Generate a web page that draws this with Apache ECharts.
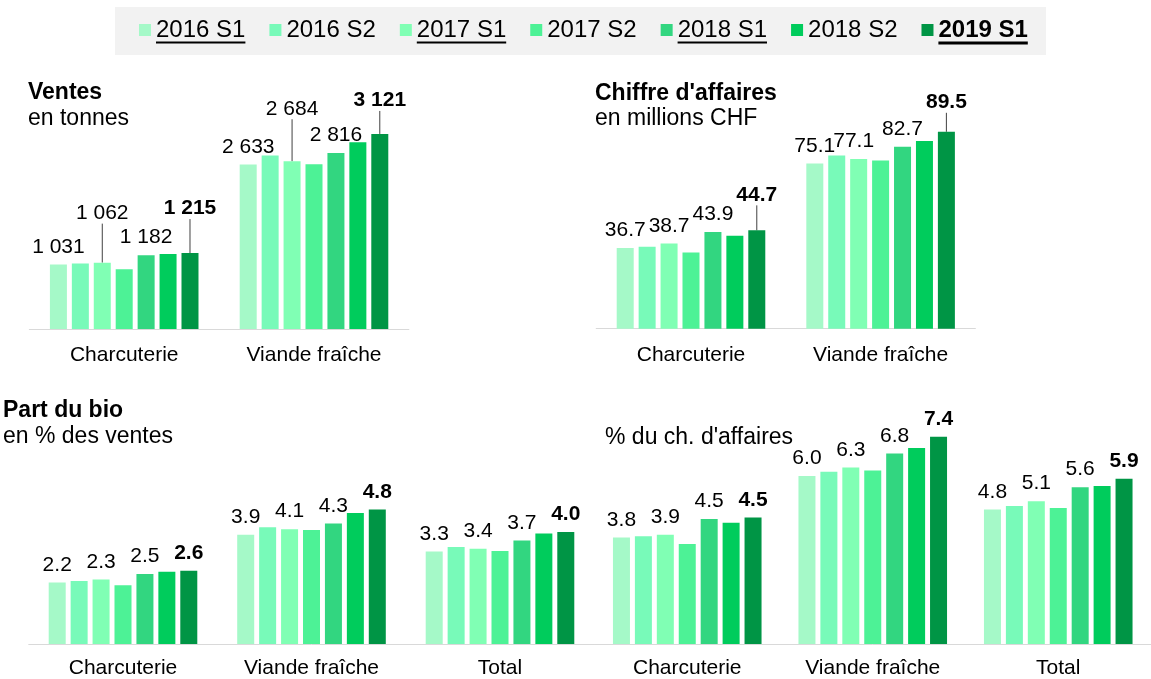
<!DOCTYPE html>
<html>
<head>
<meta charset="utf-8">
<title>Part du bio</title>
<script src="https://cdn.jsdelivr.net/npm/echarts@6/dist/echarts.min.js"></script>
<style>
  html, body { margin: 0; padding: 0; background: #fff; }
  #main { width: 1151px; height: 679px; }
</style>
</head>
<body>
<div id="main"></div>
<script>
// periodes (legende)
var periodes = ['2016 S1', '2016 S2', '2017 S1', '2017 S2', '2018 S1', '2018 S2', '2019 S1'];
var categoriesHaut = ['Charcuterie', 'Viande fraîche'];
var categoriesBas = ['Charcuterie', 'Viande fraîche', 'Total'];

// Ventes, en tonnes
var ventesCharcuterie = [1031, 1050, 1062, 955, 1182, 1200, 1215];
var ventesViande = [2633, 2778, 2684, 2635, 2816, 2990, 3121];
// Chiffre d'affaires, en millions CHF
var caCharcuterie = [36.7, 37.3, 38.7, 34.6, 43.9, 42.2, 44.7];
var caViande = [75.1, 78.7, 77.1, 76.5, 82.7, 85.3, 89.5];
// Part du bio, en % des ventes
var bioVentesCharcuterie = [2.2, 2.25, 2.3, 2.1, 2.5, 2.58, 2.62];
var bioVentesViande = [3.9, 4.17, 4.1, 4.07, 4.3, 4.68, 4.8];
var bioVentesTotal = [3.3, 3.46, 3.4, 3.32, 3.7, 3.95, 4.0];
// Part du bio, % du ch. d'affaires
var bioCaCharcuterie = [3.8, 3.85, 3.9, 3.57, 4.46, 4.33, 4.52];
var bioCaViande = [6.0, 6.15, 6.3, 6.2, 6.8, 7.0, 7.4];
var bioCaTotal = [4.8, 4.93, 5.1, 4.86, 5.6, 5.64, 5.9];

var couleurs = ['#a5f9c8', '#78fab9', '#80ffb4', '#4df296', '#32d680', '#00cc5c', '#009545'];
var police = "'Liberation Sans', Arial, sans-serif";

function milliers(v){
	return String(Math.round(v)).replace(/\B(?=(\d{3})+(?!\d))/g, ' ');
}

// decalage vertical des etiquettes avec trait de rappel  [grille][serie] = [cat0, cat1]
var decalages = {
	0: { 2: [-32, -35], 6: [-27, -16] },
	1: { 6: [-18, -12] }
};
var decalagesX = {
	1: { 2: [0, -5] }
};

function faireSeries(grille, tableaux, format){
	var res = [];
	for (var p = 0; p < periodes.length; p++) {
		var data = [];
		for (var c = 0; c < tableaux.length; c++) {
			var item = { value: tableaux[c][p] };
			var dy = decalages[grille] && decalages[grille][p] ? decalages[grille][p][c] : 0;
			if (dy) {
				item.labelLine = { show: true, lineStyle: { color: '#404040', width: 1 } };
			}
			data.push(item);
		}
		(function(g, pp){
			res.push({
				name: periodes[pp],
				type: 'bar',
				xAxisIndex: g,
				yAxisIndex: g,
				barWidth: 17,
				barGap: '29%',
				itemStyle: { color: couleurs[pp] },
				label: {
					show: pp % 2 == 0,
					position: 'top',
					distance: 7,
					fontSize: 21,
					fontFamily: police,
					fontWeight: pp == 6 ? 'bold' : 'normal',
					color: '#000',
					formatter: function (prm) { return format(prm.value); }
				},
				labelLayout: function (prm) {
					var o = {};
					var dy = decalages[g] && decalages[g][pp] ? decalages[g][pp][prm.dataIndex] : 0;
					var dx = decalagesX[g] && decalagesX[g][pp] ? decalagesX[g][pp][prm.dataIndex] : 0;
					if (dy) o.dy = dy;
					if (dx) o.dx = dx;
					return o;
				},
				emphasis: { disabled: true },
				data: data
			});
		})(grille, p);
	}
	return res;
}

function unDecimal(v){ return v.toFixed(1); }

function axeX(grille, cats, marge){
	return {
		type: 'category',
		gridIndex: grille,
		data: cats,
		axisLine: { lineStyle: { color: '#d9d9d9', width: 1 } },
		axisTick: { show: false },
		axisLabel: { fontSize: 21, fontFamily: police, color: '#000', margin: marge }
	};
}
function axeY(grille, max){
	return { type: 'value', gridIndex: grille, min: 0, max: max, show: false, splitLine: { show: false } };
}

function titre(x, y, texte, gras){
	return {
		type: 'text', x: x, y: y,
		style: {
			text: texte, fill: '#000', verticalAlign: 'middle',
			font: (gras ? 'bold ' : '') + '23px ' + police
		}
	};
}

var legendeData = [];
for (var i = 0; i < periodes.length; i++) {
	legendeData.push(i == 6 ? { name: periodes[i], textStyle: { fontWeight: 'bold' } } : { name: periodes[i] });
}

// soulignement des entrees de legende 1, 3, 5, 7
var soulignes = [];
for (var i = 0; i < periodes.length; i += 2) {
	soulignes.push({
		type: 'rect',
		shape: { x: 156 + i * 130.4, y: 41.5, width: 89.4, height: i == 6 ? 3 : 2 },
		style: { fill: '#000' },
		z: 10
	});
}

var series = []
	.concat(faireSeries(0, [ventesCharcuterie, ventesViande], milliers))
	.concat(faireSeries(1, [caCharcuterie, caViande], unDecimal))
	.concat(faireSeries(2, [bioVentesCharcuterie, bioVentesViande, bioVentesTotal], unDecimal))
	.concat(faireSeries(3, [bioCaCharcuterie, bioCaViande, bioCaTotal], unDecimal));

var myChart = echarts.init(document.getElementById('main'));
var option = {
	animation: false,
	backgroundColor: '#fff',
	textStyle: { fontFamily: police },
	legend: {
		data: legendeData,
		left: 139,
		top: 18,
		padding: 0,
		icon: 'rect',
		itemWidth: 12,
		itemHeight: 12,
		itemGap: 24,
		selectedMode: false,
		textStyle: { fontSize: 24, fontFamily: police, color: '#000' }
	},
	grid: [
		{ left: 29.3, top: 79, width: 379.6, height: 250 },
		{ left: 596.2, top: 108.7, width: 379.2, height: 220 },
		{ left: 28.75, top: 392, width: 565.5, height: 252 },
		{ left: 594.5, top: 392, width: 565.5, height: 252 }
	],
	xAxis: [
		axeX(0, categoriesHaut, 16),
		axeX(1, categoriesHaut, 16),
		axeX(2, categoriesBas, 14),
		axeX(3, categoriesBas, 14)
	],
	yAxis: [axeY(0, 4000), axeY(1, 100), axeY(2, 9), axeY(3, 9)],
	graphic: [
		{ type: 'rect', shape: { x: 115, y: 7, width: 931, height: 48 }, style: { fill: '#f2f2f2' }, z: -10 },
		titre(28, 92.8, 'Ventes', true),
		titre(28, 119, 'en tonnes', false),
		titre(595, 93.3, "Chiffre d'affaires", true),
		titre(595, 119, 'en millions CHF', false),
		titre(3, 410.7, 'Part du bio', true),
		titre(3, 436.8, 'en % des ventes', false),
		titre(605, 437.5, "% du ch. d'affaires", false)
	].concat(soulignes),
	series: series
};
myChart.setOption(option);
</script>
</body>
</html>
